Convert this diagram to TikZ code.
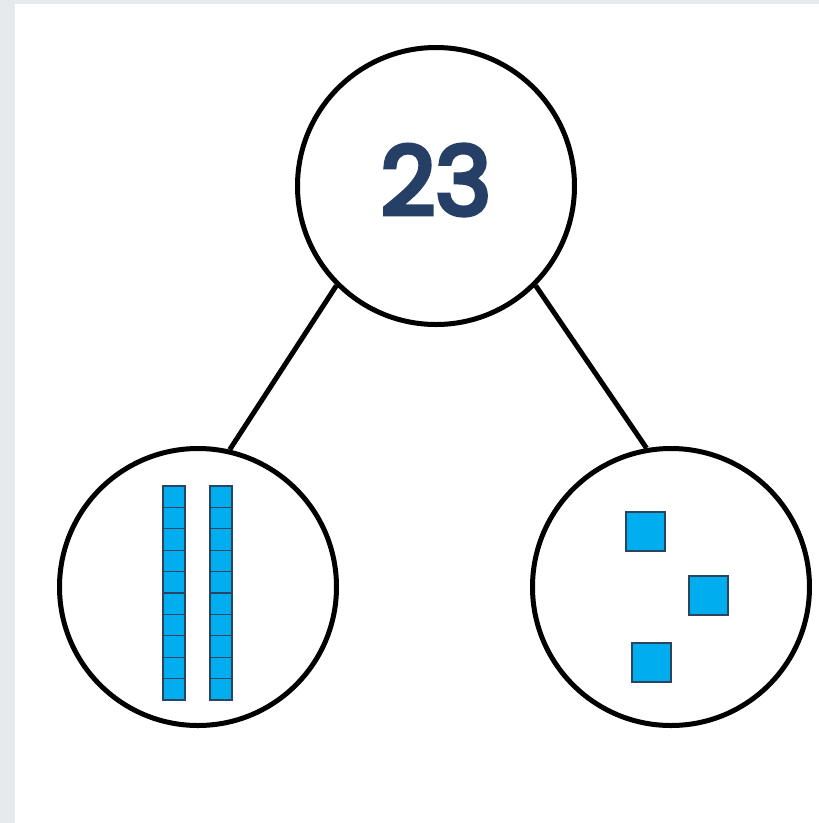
\documentclass[tikz,border=0pt]{standalone}
\usepackage{fontspec}
\newfontfamily\numfont{Poppins}[FakeBold=5]
\definecolor{unitblue}{HTML}{00AEEF}
\definecolor{unitedge}{HTML}{2B4560}
\definecolor{numblue}{HTML}{263F66}
\definecolor{paper}{HTML}{E7EAED}
\begin{document}
\begin{tikzpicture}[x=1pt,y=-1pt,
  part/.style={circle,draw=black,line width=5pt,minimum size=277pt,inner sep=0pt},
  link/.style={draw=black,line width=5pt},
  unit/.style={fill=unitblue,draw=unitedge,line width=1.2pt}]
  % canvas with the grey strip along the left and top edges
  \fill[paper] (0,0) rectangle (819,823);
  \fill[white] (15,4) rectangle (819,823);
  \useasboundingbox (0,0) rectangle (819,823);

  % whole and parts
  \node[part] (whole) at (436,186) {};
  \node[part] (tens) at (198,587) {};
  \node[part] (ones) at (671,587) {};
  \node[text=numblue,font=\numfont\fontsize{95}{95}\selectfont] (num) at (436,180) {23};

  \draw[link] (whole.225) -- (tens.77);
  \draw[link] (whole.-45) -- (ones.100);

  % two ten-rods
  \foreach \x in {163,210}{
    \foreach \k in {0,...,9}{
      \draw[unit] (\x,486+\k*21.4) rectangle ++(22,21.4);
    }
  }
  % three single cubes
  \draw[unit] (626,512) rectangle ++(39,39);
  \draw[unit] (689,576) rectangle ++(39,39);
  \draw[unit] (632,643) rectangle ++(39,39);
\end{tikzpicture}
\end{document}
